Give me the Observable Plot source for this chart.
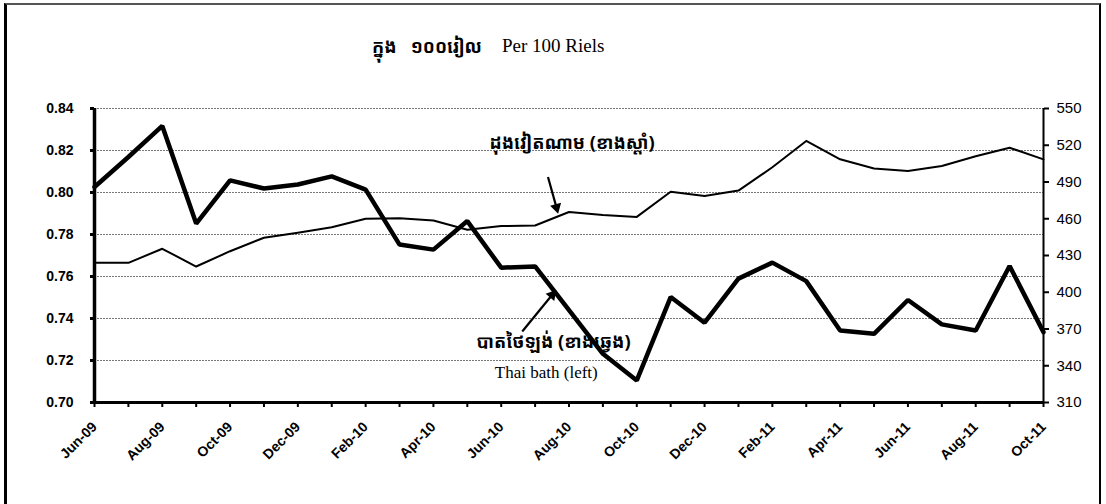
<!DOCTYPE html>
<html>
<head>
<meta charset="utf-8">
<script src="https://cdn.jsdelivr.net/npm/d3@7"></script>
<script src="https://cdn.jsdelivr.net/npm/@observablehq/plot@0.6"></script>
<style>
  body { margin: 0; background: #fff; }
  #wrap { position: relative; width: 1106px; height: 504px; overflow: hidden; background: #fff; }
  #frame { position: absolute; left: 4px; top: 3px; width: 1097px; height: 540px;
           border-top: 2px solid #555; border-left: 3px solid #000; border-right: 2px solid #000; box-sizing: border-box; }
  #chart { position: absolute; left: 0; top: 0; }
  .kh { font-family: "Khmer OS", "Noto Sans Khmer", "Noto Serif Khmer", "Khmer OS System", sans-serif; font-weight: bold; }
  #titleKh { position: absolute; top: 34px; right: 624px; font-size: 18px; white-space: pre; }
  #titleEn { position: absolute; top: 35px; left: 502px; font-family: "Liberation Serif", "Times New Roman", serif; font-size: 19px; }
</style>
</head>
<body>
<div id="wrap">
  <div id="frame"></div>
  <div id="chart"></div>
  <span id="titleKh" class="kh">ក្នុង   ១០០រៀល</span>
  <span id="titleEn">Per 100 Riels</span>
</div>
<script>
// ---- data ----
const months = ["Jun-09","Jul-09","Aug-09","Sep-09","Oct-09","Nov-09","Dec-09","Jan-10","Feb-10","Mar-10","Apr-10","May-10","Jun-10","Jul-10","Aug-10","Sep-10","Oct-10","Nov-10","Dec-10","Jan-11","Feb-11","Mar-11","Apr-11","May-11","Jun-11","Jul-11","Aug-11","Sep-11","Oct-11"];
// Thai baht per 100 riels (left axis)
const thaiBaht = [0.8026,0.8169,0.8317,0.7852,0.8058,0.8019,0.8038,0.8077,0.8014,0.7752,0.7728,0.7864,0.7642,0.7648,0.7440,0.7232,0.7105,0.7502,0.7380,0.7590,0.7666,0.7578,0.7343,0.7327,0.7488,0.7372,0.7343,0.7650,0.7335];
// Vietnamese dong per 100 riels (right axis)
const vnDong = [424,424,435.5,421,433.5,444.5,448.5,453,460,460.5,458.5,451,454,454.5,465.5,463,461.5,482,478.5,483,502,523.5,508.5,501,499,503,511,518,508.5];
const leftTicks = [0.70,0.72,0.74,0.76,0.78,0.80,0.82,0.84];
const rightTicks = [310,340,370,400,430,460,490,520,550];

const dongLabel = "ដុងវៀតណាម (ខាងស្តាំ)";
const thaiLabelKh = "បាតថៃឡង់ (ខាងឆ្វេង)";
const thaiLabelEn = "Thai bath (left)";

// ---- dual-axis mapping ----
const L0 = leftTicks[0], L1 = leftTicks[leftTicks.length - 1];
const R0 = rightTicks[0], R1 = rightTicks[rightTicks.length - 1];
const toLeft = v => L0 + (v - R0) / (R1 - R0) * (L1 - L0);
const fromLeft = v => R0 + (v - L0) / (L1 - L0) * (R1 - R0);

const rows = months.map((m, i) => ({ i, m, thai: thaiBaht[i], dong: toLeft(vnDong[i]) }));
const last = months.length - 1;

// annotation anchors (data units)
const dongArrow = { x1: 13.38, y1: 0.8074, x2: 13.63, y2: 0.7929, rot: 165 };
const thaiArrow = { x1: 12.62, y1: 0.7338, x2: 13.50, y2: 0.7512, rot: 40 };

const khFont = '"Khmer OS", "Noto Sans Khmer", "Noto Serif Khmer", sans-serif';

const chart = Plot.plot({
  width: 1106,
  height: 504,
  marginLeft: 94,
  marginRight: 63,
  marginTop: 108,
  marginBottom: 102,
  style: { fontFamily: "Liberation Sans, Arial, sans-serif", background: "transparent", color: "#000" },
  x: { type: "linear", domain: [0, last] },
  y: { domain: [L0, L1] },
  marks: [
    Plot.gridY(leftTicks.slice(1), { stroke: "#555", strokeOpacity: 1, strokeWidth: 0.8, strokeDasharray: "2,1" }),
    Plot.lineY(rows, { x: "i", y: "dong", stroke: "#000", strokeWidth: 2 }),
    Plot.lineY(rows, { x: "i", y: "thai", stroke: "#000", strokeWidth: 4.5, strokeLinejoin: "miter" }),
    // left axis
    Plot.axisY(leftTicks, { anchor: "left", tickFormat: d3.format(".2f"), tickSize: 4, strokeWidth: 3, tickPadding: 17, fontSize: 14, fontWeight: "bold", label: null }),
    Plot.ruleX([0], { stroke: "#000", strokeWidth: 3.5 }),
    // right axis
    Plot.axisY(rightTicks.map(toLeft), { anchor: "right", tickFormat: v => Math.round(fromLeft(v)), tickSize: 5, strokeWidth: 2, tickPadding: 8, fontSize: 15, label: null }),
    Plot.ruleX([last], { stroke: "#000", strokeWidth: 2 }),
    // x axis
    Plot.axisX(d3.range(months.length), { tickFormat: () => "", tickSize: 5, strokeWidth: 2, label: null }),
    Plot.axisX(d3.range(0, months.length, 2), { tickFormat: i => months[i], tickSize: 0, tickPadding: 22, tickRotate: -45, fontSize: 14, fontWeight: "bold", label: null }),
    Plot.ruleY([L0], { stroke: "#000", strokeWidth: 3 }),
    // annotations
    Plot.text([dongLabel], { x: 14.09, y: 0.8234, text: d => d, fontSize: 18, fontWeight: "bold", fontFamily: khFont, textAnchor: "middle", lineAnchor: "middle" }),
    Plot.text([thaiLabelKh], { x: 13.54, y: 0.7287, text: d => d, fontSize: 18, fontWeight: "bold", fontFamily: khFont, textAnchor: "middle", lineAnchor: "middle" }),
    Plot.text([thaiLabelEn], { x: 13.33, y: 0.7145, text: d => d, fontSize: 17, fontFamily: "Liberation Serif, Times New Roman, serif", textAnchor: "middle", lineAnchor: "middle" }),
    Plot.link([dongArrow, thaiArrow], { x1: "x1", y1: "y1", x2: "x2", y2: "y2", stroke: "#000", strokeWidth: 2.2 }),
    Plot.dot([dongArrow, thaiArrow], { x: "x2", y: "y2", symbol: "triangle", r: 4.2, fill: "#000", stroke: "none", rotate: "rot" })
  ]
});
document.getElementById("chart").appendChild(chart);
</script>
</body>
</html>
